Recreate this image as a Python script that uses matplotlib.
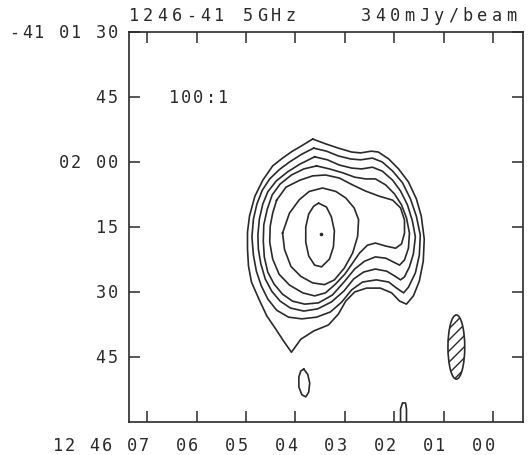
import matplotlib
matplotlib.use("Agg")
import matplotlib.pyplot as plt
import numpy as np
from matplotlib.patches import Ellipse
from matplotlib.transforms import ScaledTranslation, blended_transform_factory

# ---- map data: RA in seconds past 12h46m, Dec in arcsec south of -41d00m ----
title_left = "1246-41 5GHz"
title_right = "340mJy/beam"
range_note = "100:1"

ra_ticks = [7, 6, 5, 4, 3, 2, 1, 0]
ra_labels = ["12 46 07", "06", "05", "04", "03", "02", "01", "00"]
dec_ticks = [90, 105, 120, 135, 150, 165]
dec_labels = ["-41 01 30", "45", "02 00", "15", "30", "45"]

# contour levels, outermost first
c1_ra = [3.65, 3.39, 3.13, 2.86, 2.68, 2.46, 2.32, 2.11, 1.91, 1.71, 1.55, 1.45, 1.39, 1.41, 1.49,
         1.61, 1.75, 1.89, 2.05, 2.28, 2.56, 2.80, 2.98, 3.13, 3.33, 3.63, 3.89, 4.08, 4.24, 4.40,
         4.58, 4.74, 4.89, 4.95, 4.97, 4.97, 4.93, 4.82, 4.66, 4.46, 4.26, 4.06, 3.85]
c1_dec = [114.7, 115.8, 116.8, 117.7, 117.9, 117.5, 117.7, 119.3, 121.6, 124.6, 128.5, 132.5, 137.8,
          142.9, 147.5, 150.9, 152.8, 152.1, 150.2, 149.1, 149.1, 150.0, 152.1, 155.1, 157.6, 159.0,
          160.9, 163.9, 161.3, 158.5, 155.5, 151.6, 147.7, 144.0, 140.1, 136.2, 132.5, 127.9, 124.2,
          120.9, 119.1, 117.5, 116.1]

c2_ra = [3.63, 3.37, 3.13, 2.88, 2.68, 2.44, 2.24, 2.03, 1.83, 1.67, 1.55, 1.47, 1.49, 1.57, 1.71,
         1.81, 1.95, 2.11, 2.36, 2.64, 2.86, 3.06, 3.29, 3.57, 3.87, 4.14, 4.38, 4.56, 4.69, 4.79,
         4.85, 4.88, 4.85, 4.78, 4.67, 4.52, 4.33, 4.12, 3.87]
c2_dec = [116.8, 117.5, 118.6, 119.3, 119.5, 119.1, 120.0, 122.1, 124.8, 128.5, 132.5, 136.9, 141.5,
          145.6, 148.9, 150.2, 149.1, 147.7, 147.2, 147.7, 149.5, 152.3, 154.6, 155.8, 156.2, 155.8,
          154.2, 151.6, 148.6, 145.2, 141.5, 137.3, 133.2, 129.7, 126.5, 123.9, 121.8, 120.0, 118.2]

c3_ra = [3.61, 3.35, 3.11, 2.86, 2.66, 2.44, 2.24, 2.03, 1.87, 1.73, 1.63, 1.57, 1.61, 1.69, 1.79,
         1.87, 1.99, 2.15, 2.38, 2.62, 2.82, 3.02, 3.27, 3.55, 3.83, 4.10, 4.31, 4.48, 4.61, 4.70,
         4.75, 4.76, 4.73, 4.66, 4.56, 4.39, 4.16, 3.91]
c3_dec = [118.8, 119.5, 120.7, 121.4, 121.6, 121.2, 122.1, 124.2, 126.7, 129.9, 133.6, 137.3, 141.2,
          144.2, 146.5, 147.2, 146.3, 145.2, 144.7, 145.4, 147.0, 149.8, 152.3, 153.9, 154.4, 153.7,
          152.1, 149.8, 147.0, 143.5, 140.1, 136.9, 133.2, 129.7, 126.9, 124.4, 122.3, 120.5]

c4_ra = [3.57, 3.31, 3.04, 2.80, 2.58, 2.38, 2.17, 1.99, 1.85, 1.75, 1.69, 1.71, 1.79, 1.89, 2.01,
         2.17, 2.38, 2.60, 2.80, 3.00, 3.25, 3.53, 3.81, 4.06, 4.26, 4.43, 4.56, 4.63, 4.65, 4.64,
         4.57, 4.47, 4.31, 4.08, 3.83]
c4_dec = [120.9, 121.6, 122.5, 123.5, 123.9, 123.9, 125.3, 127.4, 129.9, 132.9, 136.4, 139.9, 142.6,
          143.8, 143.1, 142.2, 141.9, 142.9, 144.7, 147.5, 150.7, 152.5, 152.8, 152.1, 150.5, 148.2,
          145.4, 141.9, 138.2, 134.5, 130.9, 127.6, 125.1, 123.0, 121.6]

c5_ra = [4.38, 4.19, 3.91, 3.65, 3.39, 3.11, 2.84, 2.58, 2.30, 2.03, 1.87, 1.79, 1.79, 1.85, 1.97,
         2.17, 2.38, 2.54, 2.70, 2.84, 3.00, 3.19, 3.39, 3.61, 3.85, 4.12, 4.33, 4.46, 4.52, 4.51,
         4.46]
c5_dec = [128.8, 125.8, 124.2, 123.2, 123.0, 123.7, 125.3, 126.7, 127.9, 128.8, 130.6, 133.4, 136.4,
          138.9, 139.9, 139.4, 138.7, 139.2, 141.0, 143.3, 145.9, 148.2, 150.2, 150.9, 150.2, 148.4,
          145.9, 142.4, 138.5, 134.8, 131.8]

c6_ra = [4.26, 4.12, 3.92, 3.72, 3.45, 3.18, 2.98, 2.81, 2.72, 2.74, 2.84, 3.01, 3.21, 3.41, 3.65,
         3.89, 4.09, 4.22]
c6_dec = [136.4, 131.8, 128.7, 126.8, 126.0, 126.8, 128.3, 130.6, 133.3, 137.2, 141.0, 144.5, 147.2,
          148.3, 147.9, 146.4, 144.1, 140.2]

c7_ra = [3.53, 3.37, 3.27, 3.21, 3.23, 3.31, 3.47, 3.61, 3.73, 3.79, 3.79, 3.73, 3.63]
c7_dec = [129.5, 130.4, 132.7, 135.9, 139.6, 142.4, 144.2, 143.8, 141.7, 138.5, 135.0, 132.0, 130.2]

# isolated low-level features south of the source
blob_ra = [3.83, 3.75, 3.71, 3.73, 3.79, 3.87, 3.93, 3.93, 3.89]
blob_dec = [167.8, 169.0, 171.0, 173.1, 174.2, 173.7, 171.9, 169.6, 168.2]
edge_ra = [1.87, 1.87, 1.83, 1.77, 1.75, 1.75]
edge_dec = [181.0, 177.0, 175.6, 175.6, 177.0, 181.0]

peak_ra, peak_dec = 3.49, 136.6

# restoring beam (RA width in seconds, Dec height in arcsec)
beam_ra, beam_dec = 0.74, 162.7
beam_w, beam_h, beam_pa = 0.34, 14.8, 0.0

closed_contours = [(c1_ra, c1_dec), (c2_ra, c2_dec), (c3_ra, c3_dec), (c4_ra, c4_dec),
                   (c5_ra, c5_dec), (c6_ra, c6_dec), (c7_ra, c7_dec), (blob_ra, blob_dec)]

INK = "#2a2a2a"
DPI = 100
W, H = 528, 456
FONT = "DejaVu Sans Mono"

fig = plt.figure(figsize=(W / DPI, H / DPI), dpi=DPI)
fig.patch.set_facecolor("white")
ax = fig.add_axes([129 / W, 1 - 423 / H, (523 - 129) / W, (423 - 33) / H])
ax.set_xlim(7.37, -0.61)
ax.set_ylim(180, 90)

for ra, dec in closed_contours:
    ra = np.asarray(ra + ra[:1])
    dec = np.asarray(dec + dec[:1])
    ax.plot(ra, dec, color=INK, lw=1.2, solid_joinstyle="round")
ax.plot(edge_ra, edge_dec, color=INK, lw=1.2)
ax.plot([peak_ra], [peak_dec], marker="o", ms=1.6, color=INK, ls="none")

beam = Ellipse((beam_ra, beam_dec), beam_w, beam_h, angle=beam_pa, facecolor="none",
               edgecolor=INK, lw=1.2, hatch="///")
ax.add_patch(beam)

for s in ax.spines.values():
    s.set_linewidth(1.2)
    s.set_color(INK)
ax.set_xticks(ra_ticks)
ax.set_yticks(dec_ticks)
ax.tick_params(direction="in", length=8, width=1.1, color=INK, top=True, right=True,
               labelbottom=False, labelleft=False)


def spaced(x, y, transform, s, pitch, anchor_idx, dx, dy, size=12.2):
    """Lay out characters on a fixed pitch (pixels), like a pen plotter."""
    for i, ch in enumerate(s):
        if ch == " ":
            continue
        off = ScaledTranslation((dx + (i - anchor_idx) * pitch) / DPI, dy / DPI,
                                fig.dpi_scale_trans)
        fig.text(x, y, ch, transform=transform + off, ha="center", va="center",
                 fontsize=size, family=FONT, color=INK)


# RA labels sit just left of their ticks, below the frame
xt = blended_transform_factory(ax.transData, ax.transAxes)
for v, lab in zip(ra_ticks, ra_labels):
    spaced(v, 0, xt, lab, 12.3, len(lab) - 1.5, -9.5, -23)

# Dec labels right-aligned left of the frame
yt = blended_transform_factory(ax.transAxes, ax.transData)
for v, lab in zip(dec_ticks, dec_labels):
    spaced(0, v, yt, lab, 12.3, len(lab) - 1, -16, 0)

# header and dynamic-range note
spaced(0, 1, ax.transAxes, title_left, 14.2, 0, 5, 17)
spaced(1, 1, ax.transAxes, title_right, 14.5, len(title_right) - 1, -12, 17)
spaced(0, 1, ax.transAxes, range_note, 12.2, 0, 45, -65)

fig.savefig("out.png", dpi=DPI, facecolor="white")
